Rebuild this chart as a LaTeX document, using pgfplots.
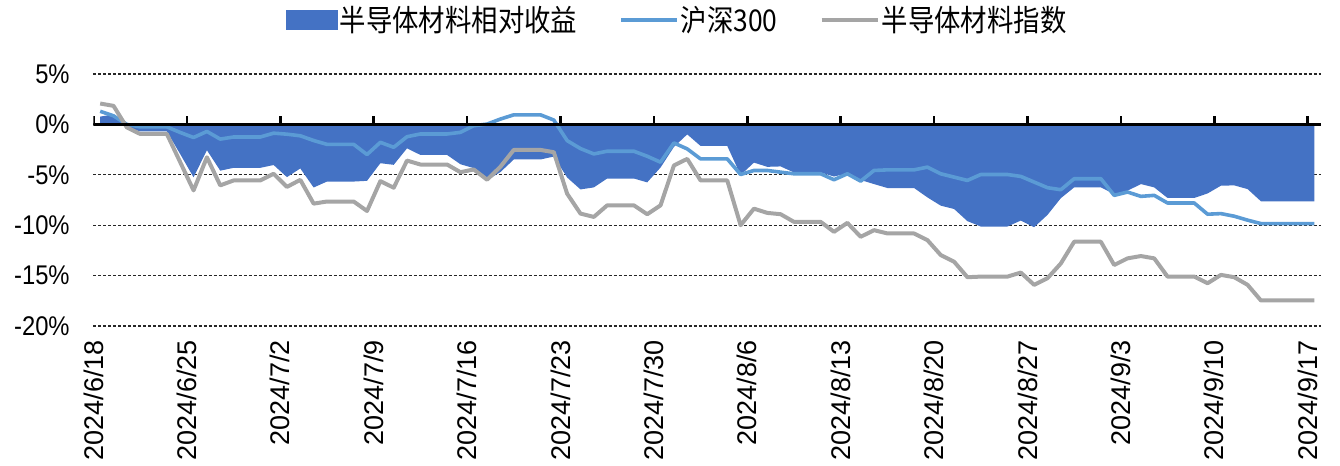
\documentclass[border=0pt]{standalone}
\usepackage{fontspec}
\setmainfont{Liberation Sans}
\newfontfamily\cjk[FakeStretch=0.88]{Noto Sans CJK SC}
\newfontfamily\cond[FakeStretch=0.88]{Liberation Sans}
\usepackage{pgfplots}
\usepackage{pgfplotstable}
\pgfplotsset{compat=1.18}

\definecolor{relblue}{HTML}{4472C4}
\definecolor{hsblue}{HTML}{5B9BD5}
\definecolor{idxgray}{HTML}{A5A5A5}

% d = days since 2024/6/18; g = index, h = CSI 300, r = relative (g - h), in %
\pgfplotstableread{
d g h r
0 2.07 1.30 0.77
1 1.84 0.85 0.99
2 -0.30 0.00 -0.30
3 -0.95 -0.25 -0.70
4 -0.95 -0.25 -0.70
5 -0.95 -0.25 -0.70
6 -3.75 -0.80 -2.95
7 -6.55 -1.30 -5.25
8 -3.26 -0.70 -2.56
9 -6.05 -1.46 -4.59
10 -5.56 -1.25 -4.31
11 -5.56 -1.25 -4.31
12 -5.56 -1.25 -4.31
13 -4.90 -0.87 -4.03
14 -6.20 -0.97 -5.23
15 -5.50 -1.13 -4.37
16 -7.86 -1.60 -6.26
17 -7.65 -1.98 -5.67
18 -7.65 -1.98 -5.67
19 -7.65 -1.98 -5.67
20 -8.59 -2.99 -5.60
21 -5.63 -1.78 -3.85
22 -6.28 -2.27 -4.01
23 -3.59 -1.22 -2.37
24 -3.98 -0.95 -3.03
25 -3.98 -0.95 -3.03
26 -3.98 -0.95 -3.03
27 -4.74 -0.79 -3.95
28 -4.47 -0.13 -4.34
29 -5.49 0.03 -5.52
30 -4.20 0.53 -4.73
31 -2.53 0.95 -3.48
32 -2.53 0.95 -3.48
33 -2.53 0.95 -3.48
34 -2.76 0.43 -3.19
35 -6.88 -1.61 -5.27
36 -8.85 -2.40 -6.45
37 -9.18 -2.93 -6.25
38 -8.03 -2.66 -5.37
39 -8.03 -2.66 -5.37
40 -8.03 -2.66 -5.37
41 -8.91 -3.16 -5.75
42 -8.03 -3.75 -4.28
43 -4.08 -1.84 -2.24
44 -3.42 -2.43 -0.99
45 -5.56 -3.42 -2.14
46 -5.56 -3.42 -2.14
47 -5.56 -3.42 -2.14
48 -10.00 -4.97 -5.03
49 -8.36 -4.57 -3.79
50 -8.78 -4.57 -4.21
51 -8.91 -4.74 -4.17
52 -9.67 -4.90 -4.77
53 -9.67 -4.90 -4.77
54 -9.67 -4.90 -4.77
55 -10.66 -5.49 -5.17
56 -9.77 -4.90 -4.87
57 -11.15 -5.63 -5.52
58 -10.49 -4.57 -5.92
59 -10.82 -4.51 -6.31
60 -10.82 -4.51 -6.31
61 -10.82 -4.51 -6.31
62 -11.48 -4.24 -7.24
63 -12.96 -4.90 -8.06
64 -13.62 -5.23 -8.39
65 -15.16 -5.56 -9.60
66 -15.10 -4.97 -10.13
67 -15.10 -4.97 -10.13
68 -15.10 -4.97 -10.13
69 -14.70 -5.16 -9.54
70 -15.92 -5.72 -10.20
71 -15.26 -6.28 -8.98
72 -13.80 -6.48 -7.32
73 -11.64 -5.39 -6.25
74 -11.64 -5.39 -6.25
75 -11.64 -5.39 -6.25
76 -13.95 -7.04 -6.91
77 -13.29 -6.71 -6.58
78 -13.06 -7.14 -5.92
79 -13.29 -7.04 -6.25
80 -15.10 -7.80 -7.30
81 -15.10 -7.80 -7.30
82 -15.10 -7.80 -7.30
83 -15.76 -8.91 -6.85
84 -14.93 -8.85 -6.08
85 -15.16 -9.11 -6.05
86 -15.92 -9.50 -6.42
87 -17.47 -9.84 -7.63
88 -17.47 -9.84 -7.63
89 -17.47 -9.84 -7.63
90 -17.47 -9.84 -7.63
91 -17.47 -9.84 -7.63
}\semidata

\begin{document}
\begin{tikzpicture}
\begin{axis}[
    width=613.75pt, height=126pt, scale only axis,
    xmin=-0.5, xmax=91.5, ymin=-20, ymax=5,
    axis line style={draw=none},
    tick style={draw=none},
    xtick={-0.5,6.5,13.5,20.5,27.5,34.5,41.5,48.5,55.5,62.5,69.5,76.5,83.5,90.5},
    xticklabels={2024/6/18,2024/6/25,2024/7/2,2024/7/9,2024/7/16,2024/7/23,2024/7/30,
                 2024/8/6,2024/8/13,2024/8/20,2024/8/27,2024/9/3,2024/9/10,2024/9/17},
    xticklabel style={yshift=-7pt, rotate=90, anchor=east, inner sep=0pt,
                      font=\fontsize{13.5}{14}\selectfont},
    ytick={-20,-15,...,5},
    yticklabels={-20\%,-15\%,-10\%,-5\%,0\%,5\%},
    yticklabel style={xshift=-11.75pt, anchor=east, inner sep=0pt,
                      font=\cond\fontsize{13.5}{14}\selectfont},
    ymajorgrids,
    grid style={dash pattern=on 1.5pt off 1pt, line width=0.6pt, black!85},
    legend columns=3,
    legend cell align=left,
    legend style={at={(0.4754,1.214)}, anchor=center, draw=none, fill=none,
                  inner sep=0pt, nodes={inner sep=1pt},
                  font=\cjk\fontsize{15}{16}\selectfont,
                  /tikz/every even column/.append style={column sep=20pt}},
]
\addplot[fill=relblue, draw=none,
    legend image code/.code={\fill[relblue] (0pt,-5pt) rectangle (26pt,5pt);}]
    table[x=d, y=r]{\semidata} \closedcycle;
\addlegendentry{半导体材料相对收益}
\addplot[hsblue, line width=1.8pt, line join=round,
    legend image code/.code={\draw[hsblue, line width=1.8pt] (0pt,0pt) -- (28pt,0pt);}]
    table[x=d, y=h]{\semidata};
\addlegendentry{沪深300}
\addplot[idxgray, line width=2pt, line join=round,
    legend image code/.code={\draw[idxgray, line width=2pt] (0pt,0pt) -- (28pt,0pt);}]
    table[x=d, y=g]{\semidata};
\addlegendentry{半导体材料指数}

% zero line with upward ticks, as in the source chart
\draw[black, line width=1.6pt] (axis cs:-0.5,0) -- (axis cs:91.5,0);
\pgfplotsinvokeforeach{-0.5,6.5,13.5,20.5,27.5,34.5,41.5,48.5,55.5,62.5,69.5,76.5,83.5,90.5}{
    \draw[black, line width=1.3pt] (axis cs:#1,0) -- ++(0pt,4pt);
}
\end{axis}
\path (-46.75pt,-70pt) rectangle (623.25pt,163pt);
\end{tikzpicture}
\end{document}
